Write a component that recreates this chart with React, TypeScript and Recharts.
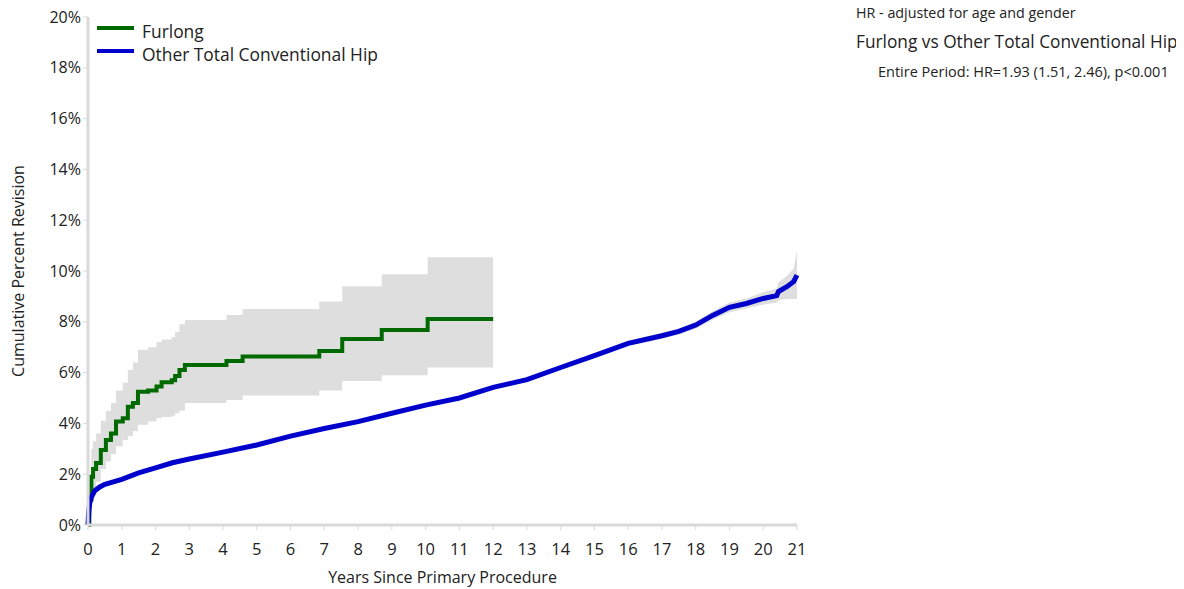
import { ComposedChart, Line, Area, XAxis, YAxis, Label } from 'recharts'

// Furlong (Kaplan-Meier step estimate with 95% CI)
const furlongYears = [0, 0.04, 0.1, 0.15, 0.24, 0.38, 0.53, 0.68, 0.83, 1.03, 1.18, 1.33, 1.48, 1.78, 2.03, 2.18, 2.48, 2.58, 2.71, 2.87, 4.1, 4.58, 6.85, 7.53, 8.7, 10.06, 12.0]
const furlongRevision = [0, 1.0, 1.9, 2.2, 2.44, 2.95, 3.35, 3.6, 4.07, 4.2, 4.66, 4.8, 5.25, 5.3, 5.45, 5.62, 5.7, 5.87, 6.1, 6.3, 6.46, 6.63, 6.85, 7.32, 7.68, 8.11, 8.11]
const furlongLower = [0, 0.3, 1.0, 1.4, 1.7, 2.2, 2.5, 2.8, 3.1, 3.35, 3.5, 3.7, 3.95, 4.07, 4.2, 4.25, 4.3, 4.4, 4.5, 4.8, 4.92, 5.1, 5.3, 5.67, 5.9, 6.2, 6.2]
const furlongUpper = [0, 2.0, 3.0, 3.3, 3.6, 4.1, 4.5, 4.8, 5.3, 5.6, 6.1, 6.4, 6.9, 7.0, 7.2, 7.3, 7.4, 7.6, 7.9, 8.07, 8.27, 8.5, 8.8, 9.4, 9.87, 10.54, 10.54]

// Other Total Conventional Hip
const otherYears = [0, 0.02, 0.05, 0.1, 0.2, 0.35, 0.5, 0.75, 1, 1.5, 2, 2.5, 3, 4, 5, 6, 7, 8, 9, 10, 11, 12, 13, 14, 15, 16, 17, 17.5, 18, 18.5, 19, 19.5, 20, 20.4, 20.45, 20.7, 20.9, 21]
const otherRevision = [0, 0.5, 0.85, 1.1, 1.35, 1.5, 1.6, 1.7, 1.8, 2.05, 2.25, 2.45, 2.6, 2.87, 3.15, 3.5, 3.8, 4.07, 4.4, 4.72, 5.0, 5.42, 5.72, 6.2, 6.67, 7.15, 7.45, 7.62, 7.87, 8.25, 8.57, 8.72, 8.92, 9.03, 9.19, 9.38, 9.58, 9.84]
const otherLower = [0, 0.45, 0.8, 1.05, 1.3, 1.45, 1.55, 1.65, 1.75, 2.0, 2.2, 2.4, 2.55, 2.82, 3.1, 3.45, 3.75, 4.02, 4.35, 4.66, 4.94, 5.35, 5.64, 6.12, 6.58, 7.05, 7.33, 7.5, 7.73, 8.08, 8.38, 8.52, 8.68, 8.75, 8.85, 8.9, 8.9, 8.9]
const otherUpper = [0, 0.55, 0.9, 1.15, 1.4, 1.55, 1.65, 1.75, 1.85, 2.1, 2.3, 2.5, 2.65, 2.92, 3.2, 3.55, 3.85, 4.12, 4.45, 4.78, 5.06, 5.49, 5.8, 6.28, 6.76, 7.25, 7.57, 7.74, 8.01, 8.42, 8.76, 8.92, 9.16, 9.3, 9.55, 9.8, 10.1, 10.8]

const yTicks = [0, 2, 4, 6, 8, 10, 12, 14, 16, 18, 20]
const xTicks = [0, 1, 2, 3, 4, 5, 6, 7, 8, 9, 10, 11, 12, 13, 14, 15, 16, 17, 18, 19, 20, 21]

const furlongData = furlongYears.map((t, i) => ({
  t,
  value: furlongRevision[i],
  band: [furlongLower[i], furlongUpper[i]],
}))
const otherData = otherYears.map((t, i) => ({
  t,
  value: otherRevision[i],
  band: [otherLower[i], otherUpper[i]],
}))

const FONT = '"Open Sans", "Noto Sans", sans-serif'
const GREEN = '#006a00'
const BLUE = '#0000cc'
const BAND = '#dedede'
const AXIS = '#d9d9d9'

const legendItems = [
  { name: 'Furlong', color: GREEN },
  { name: 'Other Total Conventional Hip', color: BLUE },
]

function LegendBox() {
  return (
    <div style={{ position: 'absolute', left: 89, top: 11, fontFamily: FONT, fontSize: 17.4, color: '#222' }}>
      {legendItems.map(item => (
        <div key={item.name} style={{ display: 'flex', alignItems: 'center', height: 23 }}>
          <span style={{ display: 'inline-block', width: 37, height: 4, background: item.color, marginRight: 8, marginTop: -6 }} />
          <span>{item.name}</span>
        </div>
      ))}
    </div>
  )
}

export default function App() {
  return (
    <div style={{ position: 'relative', width: 1176, height: 581, fontFamily: FONT }}>
      <ComposedChart width={1176} height={581} margin={{ top: 9, right: 387, left: 20, bottom: 14 }} style={{ overflow: 'visible' }}>
        <XAxis
          type="number"
          dataKey="t"
          domain={[0, 21]}
          ticks={xTicks}
          interval={0}
          allowDuplicatedCategory={false}
          height={50}
          tick={{ fontSize: 16.5, fill: '#222', fontFamily: FONT, dy: 11 }}
          axisLine={{ stroke: AXIS, strokeWidth: 3 }}
          tickLine={{ stroke: AXIS }}
          tickSize={5}
        >
          <Label value="Years Since Primary Procedure" position="insideBottom" offset={-8} style={{ fontSize: 16, fill: '#222', fontFamily: FONT }} />
        </XAxis>
        <YAxis
          type="number"
          domain={[0, 20]}
          ticks={yTicks}
          interval={0}
          width={60}
          tickFormatter={v => `${v}%`}
          tick={{ fontSize: 16, fill: '#222', fontFamily: FONT }}
          axisLine={{ stroke: AXIS, strokeWidth: 3 }}
          tickLine={{ stroke: AXIS }}
          tickSize={5}
        >
          <Label value="Cumulative Percent Revision" angle={-90} position="insideLeft" offset={-10} style={{ fontSize: 16, fill: '#222', fontFamily: FONT, textAnchor: 'middle' }} />
        </YAxis>
        <Area data={furlongData} dataKey="band" type="stepAfter" fill={BAND} fillOpacity={1} stroke="none" isAnimationActive={false} legendType="none" />
        <Area data={otherData} dataKey="band" type="linear" fill={BAND} fillOpacity={1} stroke="none" isAnimationActive={false} legendType="none" />
        <Line data={furlongData} dataKey="value" name="Furlong" type="stepAfter" stroke={GREEN} strokeWidth={4} dot={false} isAnimationActive={false} />
        <Line data={otherData} dataKey="value" name="Other Total Conventional Hip" type="linear" stroke={BLUE} strokeWidth={5} dot={false} isAnimationActive={false} />
      </ComposedChart>
      <LegendBox />
      <div style={{ position: 'absolute', left: 848, top: -5, fontSize: 14.3, color: '#222' }}>HR - adjusted for age and gender</div>
      <div style={{ position: 'absolute', left: 848, top: 22, fontSize: 17.3, color: '#222' }}>Furlong vs Other Total Conventional Hip</div>
      <div style={{ position: 'absolute', left: 870, top: 54, fontSize: 14.5, color: '#222' }}>Entire Period: HR=1.93 (1.51, 2.46), p&lt;0.001</div>
    </div>
  )
}
